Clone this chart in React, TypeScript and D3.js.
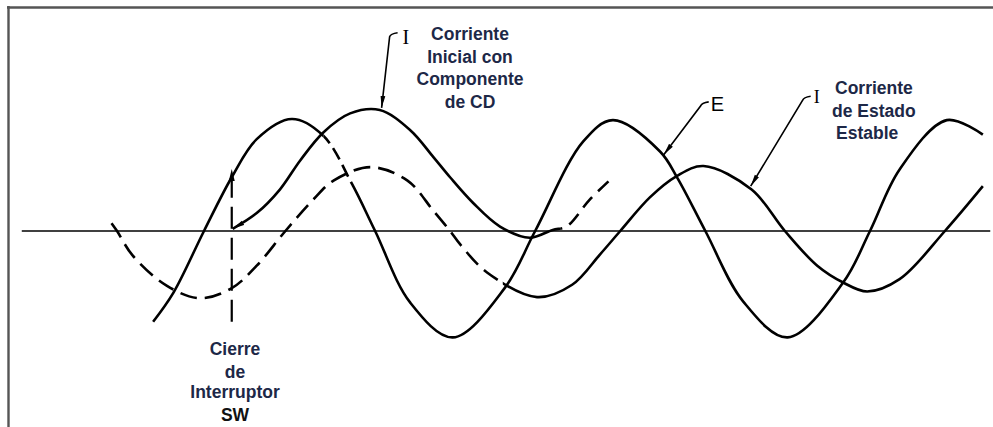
import React from 'react'
import * as d3 from 'd3'

// angle in electrical degrees (0 = E rising through zero), amplitude in % of E peak
const voltageE: [number, number][] = [
  [-55, -81], [-33, -55], [0, 0], [30, 48], [57, 82], [95, 100], [129, 85], [160, 42],
  [185, 0], [223, -64], [269, -95], [325, -51], [358, 0], [410, 80], [442, 99], [493, 71],
  [512, 47], [542, 0], [583, -63], [631, -95], [691, -46], [720, 0], [752, 55], [803, 99], [842, 86]
]
const currentSteady: [number, number][] = [
  [-100, 7], [-94, 0], [-77, -22], [-40, -49], [-4, -60], [30, -51], [57, -31], [88, 0],
  [118, 28], [140, 45], [180, 57], [220, 45], [248, 18], [266, 0], [277, -12], [306, -37],
  [360, -59], [398, -48], [428, -21], [450, 0], [482, 30], [511, 49], [540, 58], [592, 37], [628, 0],
  [663, -31], [691, -46], [717, -54], [752, -43], [801, 0], [842, 40]
]
const currentInitial: [number, number][] = [
  [31, 2], [57, 16], [82, 37], [104, 63], [129, 88], [158, 105], [190, 108], [223, 90],
  [248, 66], [266, 48], [291, 25], [320, 4], [352, -6], [377, 1], [392, 4], [417, 28], [442, 48]
]
const switchAngle = 30
const switchSpan = [-81, 50]
const eDashedRange = [129, 160]
const steadySolidFrom = 323
const initialSolidUntil = 385
const axisSpan = [-197, 850]

const initialLabel = ['Corriente', 'Inicial con', 'Componente', 'de CD']
const steadyLabel = ['Corriente', 'de Estado', 'Estable']
const switchLabel = ['Cierre', 'de', 'Interruptor', 'SW']

// pointer tips on the curves
const tipInitial: [number, number] = [192, 110]
const tipE: [number, number] = [497, 68]
const tipSteady: [number, number] = [591, 40]

const SANS = "'Liberation Sans', Arial, Helvetica, sans-serif"
const SERIF = "'Liberation Serif', 'Times New Roman', serif"
const INK = '#1d2847'

function Leader({ tip, dx, dy, text, font, size, tx, ty }: any) {
  const [px, py] = tip
  const topX = px + dx, topY = py + dy
  const d = `M${px},${py} L${topX},${topY + 3} Q${topX + 1},${topY} ${topX + 8},${topY - 1}`
  return (
    <g>
      <path d={d} fill="none" stroke="#000" strokeWidth={1.6} markerStart="url(#arrow)" />
      <text x={topX + 8 + tx} y={topY + ty} fontFamily={font} fontSize={size} fill="#000">{text}</text>
    </g>
  )
}

export default function App() {
  const W = 993, H = 427
  const x = d3.scaleLinear().domain([0, 360]).range([204, 537])
  const y = d3.scaleLinear().domain([-100, 100]).range([343, 119])
  const line = d3.line<[number, number]>()
    .x(d => x(d[0]))
    .y(d => y(d[1]))
    .curve(d3.curveCatmullRom.alpha(0.5))

  const ePath = line(voltageE) || ''
  const steadyPath = line(currentSteady) || ''
  const initPath = line(currentInitial) || ''
  const y0 = y(0)
  const sx = x(switchAngle)

  const pt = (p: [number, number]): [number, number] => [x(p[0]), y(p[1])]

  return (
    <div style={{ position: 'absolute', left: 0, top: 0, width: W, height: H, background: '#fff' }}>
      <svg width={W} height={H} viewBox={`0 0 ${W} ${H}`}>
        <defs>
          <marker id="arrow" viewBox="0 0 12 6" refX="12" refY="3" markerWidth="12" markerHeight="6"
            markerUnits="userSpaceOnUse" orient="auto-start-reverse">
            <path d="M0,0.6 L12,3 L0,5.4 z" fill="#000" />
          </marker>
          <clipPath id="eSolid">
            <rect x={0} y={0} width={x(eDashedRange[0])} height={H} />
            <rect x={x(eDashedRange[1])} y={0} width={W} height={H} />
          </clipPath>
          <clipPath id="eDash">
            <rect x={x(eDashedRange[0])} y={0} width={x(eDashedRange[1]) - x(eDashedRange[0])} height={H} />
          </clipPath>
          <clipPath id="ssDash">
            <rect x={0} y={0} width={x(steadySolidFrom)} height={H} />
          </clipPath>
          <clipPath id="ssSolid">
            <rect x={x(steadySolidFrom)} y={0} width={W} height={H} />
          </clipPath>
          <clipPath id="inSolid">
            <rect x={0} y={0} width={x(initialSolidUntil)} height={H} />
          </clipPath>
          <clipPath id="inDash">
            <rect x={x(initialSolidUntil)} y={0} width={W} height={H} />
          </clipPath>
        </defs>

        {/* frame */}
        <line x1={7} x2={W} y1={7.5} y2={7.5} stroke="#555" strokeWidth={2.4} />
        <line x1={8.5} x2={8.5} y1={6} y2={H} stroke="#555" strokeWidth={2.4} />

        {/* time axis */}
        <line x1={x(axisSpan[0])} x2={x(axisSpan[1])} y1={y0} y2={y0} stroke="#000" strokeWidth={1.6} />

        {/* voltage E */}
        <path d={ePath} fill="none" stroke="#000" strokeWidth={2.6} clipPath="url(#eSolid)" />
        <path d={ePath} fill="none" stroke="#000" strokeWidth={2.6} strokeDasharray="13 6" clipPath="url(#eDash)" />

        {/* steady-state current */}
        <path d={steadyPath} fill="none" stroke="#000" strokeWidth={2.6} strokeDasharray="17 8" clipPath="url(#ssDash)" />
        <path d={steadyPath} fill="none" stroke="#000" strokeWidth={2.6} clipPath="url(#ssSolid)" />

        {/* initial current with dc component */}
        <path d={initPath} fill="none" stroke="#000" strokeWidth={2.6} clipPath="url(#inSolid)" markerStart="url(#arrow)" />
        <path d={initPath} fill="none" stroke="#000" strokeWidth={2.6} strokeDasharray="14 8" clipPath="url(#inDash)" />

        {/* switch closing instant */}
        <line x1={sx} x2={sx} y1={y(switchSpan[0])} y2={y(switchSpan[1])} stroke="#000" strokeWidth={2.2}
          strokeDasharray="22 9" />
        <path d={`M${sx - 3},${y(switchSpan[1]) + 6} L${sx},${y(switchSpan[1]) - 6} L${sx + 3},${y(switchSpan[1]) + 6} z`} fill="#000" />

        {/* pointers */}
        <Leader tip={pt(tipInitial)} dx={8} dy={-74} text="I" font={SERIF} size={20} tx={5} ty={10} />
        <Leader tip={pt(tipE)} dx={37} dy={-52} text="E" font={SANS} size={20} tx={2} ty={8} />
        <Leader tip={pt(tipSteady)} dx={52} dy={-89} text="I" font={SERIF} size={18} tx={3} ty={6} />

        {/* labels */}
        <g fontFamily={SANS} fontWeight="bold" fontSize={17.5} fill={INK}>
          {initialLabel.map((t, i) => (
            <text key={t} x={470} y={40 + i * 22.5} textAnchor="middle">{t}</text>
          ))}
          {steadyLabel.map((t, i) => (
            <text key={t} x={[835, 832, 836][i]} y={94 + i * 22.5}>{t}</text>
          ))}
          {switchLabel.map((t, i) => (
            <text key={t} x={235} y={[355, 378, 398, 421][i]} textAnchor="middle"
              fill={t === 'SW' ? '#111' : INK}>{t}</text>
          ))}
        </g>
      </svg>
    </div>
  )
}
